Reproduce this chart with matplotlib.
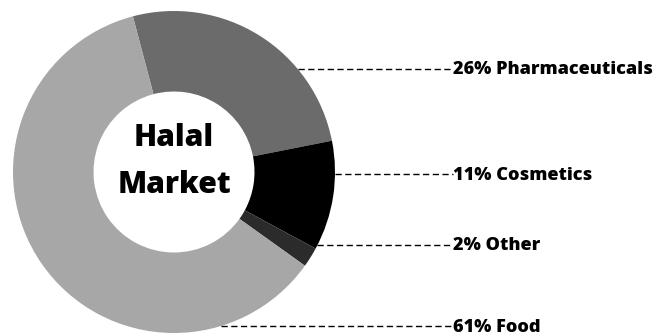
import numpy as np
import matplotlib
matplotlib.use("Agg")
import matplotlib.pyplot as plt

# data
labels = ["Pharmaceuticals", "Cosmetics", "Other", "Food"]
shares = [26, 11, 2, 61]
colors = ["#6b6b6b", "#000000", "#2b2b2b", "#a7a7a7"]
# label rows (pixel y from top of image)
label_rows = [69, 174, 245, 326]

W, H = 659, 336
fig = plt.figure(figsize=(W / 100, H / 100), dpi=100)
ax = fig.add_axes([0, 0, 1, 1])

cx, cy, r = 174, H - 172, 161
ax.pie(shares, colors=colors, startangle=104.8, counterclock=False,
       center=(cx, cy), radius=r,
       wedgeprops=dict(width=r * 0.5, linewidth=0))

ax.text(cx, H - 138, "Halal", ha="center", va="center",
        fontsize=21.7, fontweight="heavy", family="Open Sans")
ax.text(cx, H - 185, "Market", ha="center", va="center",
        fontsize=21.7, fontweight="heavy", family="Open Sans")

text_x = 453
for lab, val, row in zip(labels, shares, label_rows):
    y = H - row
    dy = abs(y - cy)
    x0 = cx + np.sqrt(max(r ** 2 - dy ** 2, 0))
    ax.plot([x0, text_x], [y, y], color="black", lw=1, ls=(0, (4.5, 2.5)))
    ax.text(text_x, y - 1, f"{val}% {lab}", ha="left", va="center",
            fontsize=13.1, fontweight="heavy", family="Open Sans")

ax.set_xlim(0, W)
ax.set_ylim(0, H)
ax.set_aspect("auto")
ax.axis("off")
fig.savefig("out.png", dpi=100)
